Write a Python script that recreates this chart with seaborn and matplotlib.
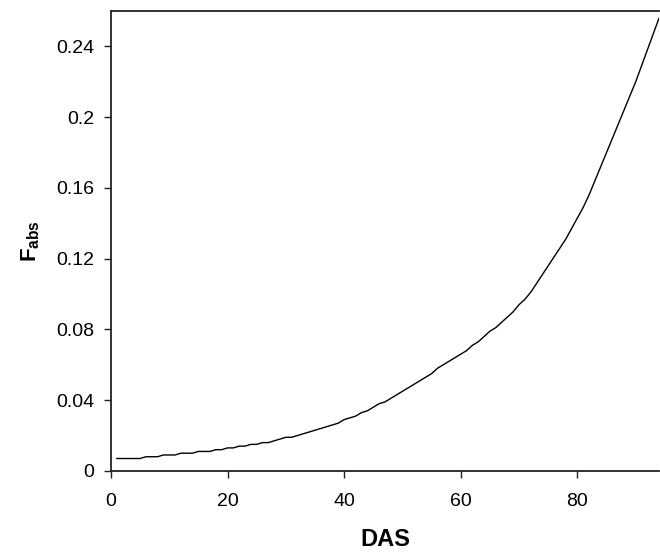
import matplotlib
matplotlib.use("Agg")
import matplotlib.pyplot as plt
import seaborn as sns
import pandas as pd

# Days after sowing
das = list(range(1, 95))

# Fraction of absorbed radiation per day
f_abs = [
    0.007, 0.007, 0.007, 0.007, 0.007, 0.008, 0.008, 0.008, 0.009, 0.009,
    0.009, 0.010, 0.010, 0.010, 0.011, 0.011, 0.011, 0.012, 0.012, 0.013,
    0.013, 0.014, 0.014, 0.015, 0.015, 0.016, 0.016, 0.017, 0.018, 0.019,
    0.019, 0.020, 0.021, 0.022, 0.023, 0.024, 0.025, 0.026, 0.027, 0.029,
    0.030, 0.031, 0.033, 0.034, 0.036, 0.038, 0.039, 0.041, 0.043, 0.045,
    0.047, 0.049, 0.051, 0.053, 0.055, 0.058, 0.060, 0.062, 0.064, 0.066,
    0.068, 0.071, 0.073, 0.076, 0.079, 0.081, 0.084, 0.087, 0.090, 0.094,
    0.097, 0.101, 0.106, 0.111, 0.116, 0.121, 0.126, 0.131, 0.137, 0.143,
    0.149, 0.156, 0.164, 0.172, 0.180, 0.188, 0.196, 0.204, 0.212, 0.220,
    0.229, 0.238, 0.247, 0.256,
]

x_ticks = [0, 20, 40, 60, 80]
y_ticks = [0, 0.04, 0.08, 0.12, 0.16, 0.2, 0.24]
y_tick_labels = ["0", "0.04", "0.08", "0.12", "0.16", "0.2", "0.24"]

sns.set_style("white")
plt.rcParams["font.family"] = ["Liberation Sans", "DejaVu Sans"]
plt.rcParams["mathtext.fontset"] = "custom"
plt.rcParams["mathtext.rm"] = "Liberation Sans"
plt.rcParams["mathtext.bf"] = "Liberation Sans:bold"
plt.rcParams["text.color"] = "black"
plt.rcParams["axes.labelcolor"] = "black"
plt.rcParams["xtick.color"] = "black"
plt.rcParams["ytick.color"] = "black"

df = pd.DataFrame({"DAS": das, "Fabs": f_abs})

fig = plt.figure(figsize=(6.6, 5.54), dpi=100)
ax = fig.add_axes([0.168, 0.150, 0.8305, 0.830])

sns.lineplot(data=df, x="DAS", y="Fabs", ax=ax, color="black", linewidth=1.0)

ax.set_xlim(0, 94)
ax.set_ylim(0, 0.26)
ax.set_xticks(x_ticks)
ax.set_xticklabels([str(t) for t in x_ticks])
ax.set_yticks(y_ticks)
ax.set_yticklabels(y_tick_labels)

for side in ["left", "bottom", "top"]:
    ax.spines[side].set_visible(True)
    ax.spines[side].set_color("#222222")
    ax.spines[side].set_linewidth(1.3)
ax.spines["right"].set_visible(False)

ax.tick_params(axis="x", direction="out", length=5, width=1.0, color="#222222",
               labelcolor="black", labelsize=14, pad=11, bottom=True)
ax.tick_params(axis="y", direction="out", length=5, width=1.0, color="#222222",
               labelcolor="black", labelsize=14, pad=7, left=True)

ax.set_xlabel("DAS", fontsize=17, fontweight="bold", labelpad=13, color="black")
ax.set_ylabel(r"$\mathbf{F}_{\mathbf{abs}}$", fontsize=16, labelpad=10, color="black")

fig.savefig("out.png", dpi=100)
